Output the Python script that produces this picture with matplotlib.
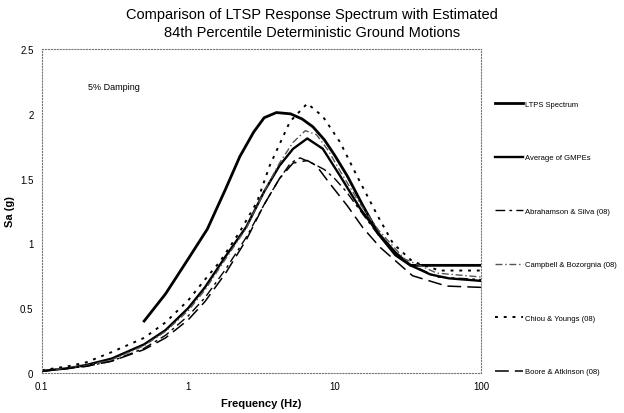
import matplotlib
matplotlib.use('Agg')
import matplotlib.pyplot as plt
from matplotlib.ticker import FixedLocator, FixedFormatter, NullLocator

plt.rcParams['font.family'] = ['Liberation Sans', 'DejaVu Sans']

# LTPS spectrum
ltps_f = [0.5, 0.7, 1.0, 1.35, 1.8, 2.25, 2.8, 3.3, 4.0, 5.0, 6.0, 7.1, 8.5, 10, 12.2, 15.6, 20, 26, 33, 100]
ltps_sa = [0.40, 0.61, 0.88, 1.11, 1.42, 1.67, 1.86, 1.97, 2.01, 2.00, 1.96, 1.90, 1.80, 1.68, 1.52, 1.29, 1.07, 0.91, 0.83, 0.83]

# Average of GMPEs
avg_f = [0.1, 0.15, 0.2, 0.3, 0.5, 0.7, 1.0, 1.3, 1.8, 2.5, 3.3, 4.2, 5.2, 6.5, 8.3, 10.9, 14.9, 19.5, 26, 33, 45, 60, 100]
avg_sa = [0.015, 0.035, 0.06, 0.11, 0.22, 0.33, 0.50, 0.66, 0.90, 1.13, 1.40, 1.60, 1.73, 1.81, 1.73, 1.52, 1.27, 1.09, 0.93, 0.83, 0.76, 0.73, 0.71]

# Abrahamson & Silva (08)
as_f = [0.1, 0.2, 0.3, 0.5, 0.7, 1.0, 1.3, 1.8, 2.5, 3.3, 4.2, 5.0, 5.8, 7, 8.5, 10, 12, 15, 20, 30, 50, 100]
as_sa = [0.012, 0.05, 0.09, 0.19, 0.29, 0.44, 0.58, 0.80, 1.05, 1.30, 1.50, 1.62, 1.66, 1.62, 1.57, 1.50, 1.40, 1.25, 1.06, 0.86, 0.74, 0.72]

# Campbell & Bozorgnia (08)
cb_f = [0.1, 0.2, 0.3, 0.5, 0.7, 1.0, 1.3, 1.8, 2.5, 3.3, 4.2, 5.2, 6.3, 7.5, 9, 11, 15, 20, 30, 50, 100]
cb_sa = [0.015, 0.055, 0.10, 0.21, 0.32, 0.48, 0.64, 0.88, 1.12, 1.40, 1.62, 1.78, 1.87, 1.84, 1.72, 1.55, 1.30, 1.10, 0.88, 0.77, 0.74]

# Chiou & Youngs (08)
cy_f = [0.1, 0.15, 0.2, 0.3, 0.5, 0.7, 1.0, 1.3, 1.65, 2.25, 2.95, 3.6, 4.95, 6.5, 8.3, 10.9, 14.2, 19.5, 25, 34, 52, 100]
cy_sa = [0.02, 0.05, 0.08, 0.16, 0.27, 0.39, 0.56, 0.72, 0.86, 1.09, 1.32, 1.60, 1.94, 2.08, 1.98, 1.78, 1.52, 1.22, 1.00, 0.86, 0.79, 0.79]

# Boore & Atkinson (08)
ba_f = [0.1, 0.2, 0.3, 0.5, 0.7, 1.0, 1.3, 1.8, 2.5, 3.3, 4.2, 5.2, 6.5, 7.5, 9, 12.2, 15.6, 20.4, 34, 58, 100]
ba_sa = [0.012, 0.05, 0.09, 0.18, 0.27, 0.41, 0.55, 0.77, 1.03, 1.30, 1.50, 1.62, 1.64, 1.60, 1.48, 1.29, 1.12, 0.97, 0.75, 0.67, 0.66]

x_ticks = [0.1, 1, 10, 100]
x_labels = ['0.1', '1', '10', '100']
y_ticks = [0, 0.5, 1, 1.5, 2, 2.5]
y_labels = ['0', '0.5', '1', '1.5', '2', '2.5']

fig = plt.figure(figsize=(6.24, 4.14), dpi=100)
ax = fig.add_axes([0.067, 0.097, 0.704, 0.782])

ax.plot(ltps_f, ltps_sa, color='black', lw=2.0, label='LTPS Spectrum')
ax.plot(avg_f, avg_sa, color='black', lw=1.7, label='Average of GMPEs')
ax.plot(as_f, as_sa, color='black', lw=1.0, dashes=(7, 3, 2, 3), label='Abrahamson & Silva (08)')
ax.plot(cb_f, cb_sa, color='#555555', lw=1.0, dashes=(5, 2, 1, 2), label='Campbell & Bozorgnia (08)')
ax.plot(cy_f, cy_sa, color='black', lw=1.4, dashes=(1.5, 3), label='Chiou & Youngs (08)')
ax.plot(ba_f, ba_sa, color='black', lw=1.1, dashes=(9, 4), label='Boore & Atkinson (08)')

ax.set_xscale('log')
ax.set_xlim(0.1, 100)
ax.set_ylim(0, 2.5)
ax.xaxis.set_major_locator(FixedLocator(x_ticks))
ax.xaxis.set_major_formatter(FixedFormatter(x_labels))
ax.xaxis.set_minor_locator(NullLocator())
ax.set_yticks(y_ticks)
ax.set_yticklabels(y_labels)
ax.tick_params(length=0, labelsize=7, pad=6)

for s in ax.spines.values():
    s.set_linestyle(':')
    s.set_color('#777777')
    s.set_linewidth(0.8)

ax.set_xlabel('Frequency (Hz)', fontsize=8, fontweight='bold', labelpad=5)
ax.set_ylabel('Sa (g)', fontsize=8, fontweight='bold', labelpad=4)
ax.text(0.105, 0.877, '5% Damping', transform=ax.transAxes, fontsize=6.5)

fig.suptitle('Comparison of LTSP Response Spectrum with Estimated\n84th Percentile Deterministic Ground Motions',
             fontsize=10.5, y=0.98, linespacing=1.3)

fig.legend(loc='upper left', bbox_to_anchor=(0.782, 0.772), frameon=False, fontsize=5.5,
           handlelength=3.7, handletextpad=0.2, labelspacing=6.05)

fig.savefig('out.png', dpi=100)
